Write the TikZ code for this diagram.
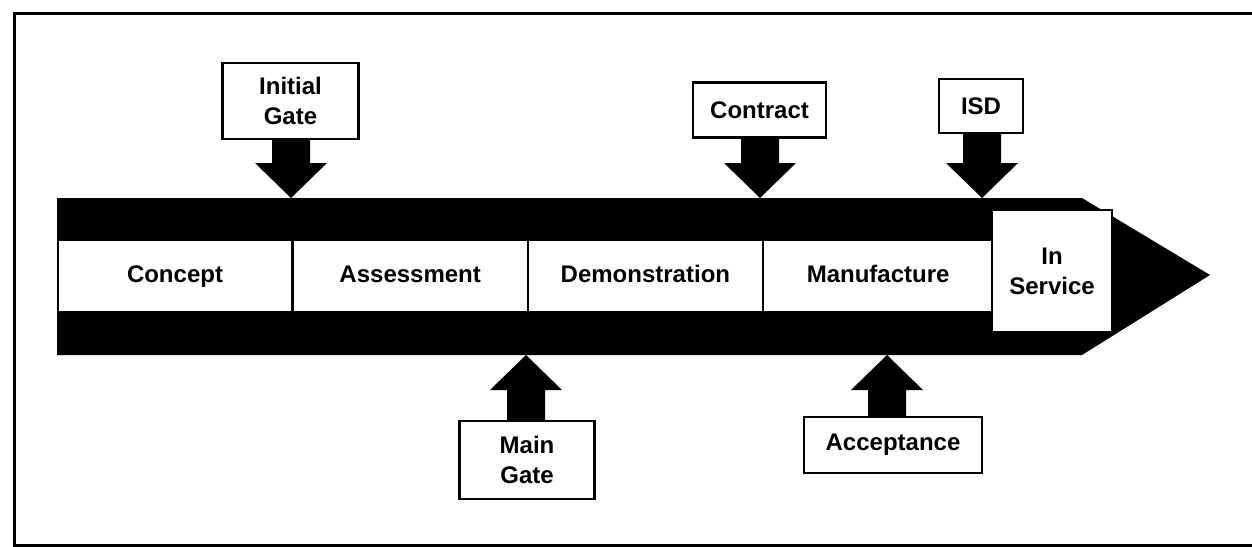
\documentclass[tikz,border=0pt]{standalone}
\usepackage{fontspec}
\setmainfont{Liberation Sans}
\usetikzlibrary{calc,positioning}

% block arrow from a gate box (#1 = edge anchor) to the band (#2 = tip), #3 = signed head length
\newcommand{\gatearrow}[3]{%
  \fill ($(#1 -| #2)+(-9.5pt,0)$) |- ($(#2)+(-18pt,#3)$) -- (#2)
    -- ($(#2)+(18pt,#3)$) -| ($(#1 -| #2)+(9.5pt,0)$) -- cycle;}

\begin{document}
\begin{tikzpicture}[x=0.5pt,y=-0.5pt,
  lab/.style={font=\bfseries\fontsize{12}{15}\selectfont,align=center,inner sep=0pt},
  gatebox/.style={lab,draw,line width=1.2pt,fill=white},
  phase/.style={lab,draw,line width=0.6pt,fill=white,minimum width=117pt,minimum height=36pt,
    text height=8.6pt,text depth=2.4pt}]
\useasboundingbox (0,0) rectangle (1252,546);
\draw[line width=1.5pt] (1262,13) -- (14,13) -- (14,545) -- (1262,545);
% the programme band
\fill (57,198) -- (1082,198) -- (1210,275) -- (1082,355) -- (57,355) -- cycle;
\node[phase] (concept) at (175,276) {Concept};
\node[phase,right=0pt of concept] (assess) {Assessment};
\node[phase,right=0pt of assess] (demo) {Demonstration};
\node[phase,right=0pt of demo,minimum width=114.5pt] (manuf) {Manufacture};
\node[lab,draw,fill=white,minimum width=60pt,minimum height=61pt,line width=0.8pt] (insvc) at (1052,271) {In\\Service};
% gates and milestones
\node[gatebox,minimum width=68pt,minimum height=38pt] (initial) at (290.5,101) {Initial\\Gate};
\node[gatebox,minimum width=66.5pt,minimum height=27.5pt] (contract) at (759.5,110) {Contract};
\node[gatebox,minimum width=42pt,minimum height=27pt] (isd) at (981,106) {ISD};
\node[gatebox,minimum width=67.5pt,minimum height=39pt] (main) at (527,460) {Main\\Gate};
\node[gatebox,minimum width=89pt,minimum height=28pt] (accept) at (893,445) {Acceptance};
\coordinate (initialtip) at (291,198);
\coordinate (contracttip) at (760,198);
\coordinate (isdtip) at (982,198);
\coordinate (maintip) at (526,355);
\coordinate (accepttip) at (887,355);
\gatearrow{initial.south}{initialtip}{17.5pt}
\gatearrow{contract.south}{contracttip}{17.5pt}
\gatearrow{isd.south}{isdtip}{17.5pt}
\gatearrow{main.north}{maintip}{-17.5pt}
\gatearrow{accept.north}{accepttip}{-17.5pt}
\end{tikzpicture}
\end{document}
